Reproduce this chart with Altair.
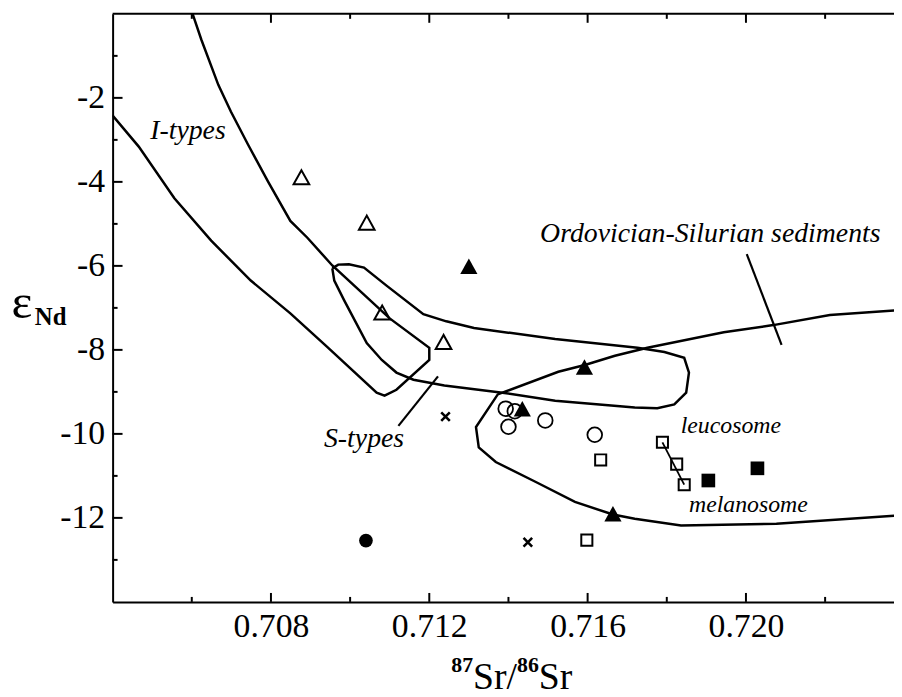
import altair as alt
import pandas as pd

FONT = "'Liberation Serif', 'Times New Roman', Times, serif"

# ---------------- data (87Sr/86Sr, eNd) ----------------
open_tri_x = [0.70877, 0.71042, 0.71081, 0.71236]
open_tri_y = [-3.91, -4.99, -7.13, -7.83]
fill_tri_x = [0.71300, 0.71592, 0.71435, 0.71664]
fill_tri_y = [-6.03, -8.43, -9.42, -11.92]
fill_circ_x = [0.71040]
fill_circ_y = [-12.54]
cross_x = [0.71241, 0.71449]
cross_y = [-9.59, -12.58]
open_circ_x = [0.71393, 0.71416, 0.71400, 0.71493, 0.71618]
open_circ_y = [-9.40, -9.46, -9.83, -9.68, -10.02]
open_sq_x = [0.71633, 0.71789, 0.71825, 0.71844, 0.71598]
open_sq_y = [-10.62, -10.20, -10.72, -11.21, -12.53]
fill_sq_x = [0.71905, 0.72029]
fill_sq_y = [-11.11, -10.82]
tie_x = [0.71789, 0.71844]
tie_y = [-10.20, -11.21]

# field outlines
itype_x = [0.70399, 0.70466, 0.70556, 0.70649, 0.70749, 0.70849, 0.70942, 0.71067,
           0.71087, 0.71117, 0.71200, 0.71200, 0.71100, 0.70955, 0.70892, 0.70849,
           0.70792, 0.70742, 0.70699, 0.70667, 0.70624, 0.70601]
itype_y = [-2.41, -3.16, -4.39, -5.40, -6.35, -7.13, -7.93, -9.02,
           -9.09, -8.95, -8.24, -7.95, -7.25, -5.99, -5.33, -4.93,
           -3.98, -3.11, -2.33, -1.69, -0.61, 0.03]
stype_x = [0.70955, 0.70970, 0.70997, 0.71035, 0.71092, 0.71185, 0.71243, 0.71313,
           0.71518, 0.71726, 0.71794, 0.71844, 0.71856, 0.71849, 0.71819, 0.71776,
           0.71719, 0.71518, 0.71385, 0.71238, 0.71160, 0.71117, 0.71080, 0.71042,
           0.70985, 0.70960, 0.70955]
stype_y = [-6.06, -5.97, -5.96, -6.04, -6.47, -7.15, -7.32, -7.48,
           -7.74, -7.95, -8.05, -8.19, -8.54, -9.02, -9.30, -9.39,
           -9.37, -9.21, -9.02, -8.85, -8.71, -8.54, -8.24, -7.84,
           -6.82, -6.35, -6.06]
sed_x = [0.72375, 0.72212, 0.72069, 0.71944, 0.71751, 0.71669, 0.71593, 0.71526,
         0.71393, 0.71373, 0.71318, 0.71325, 0.71368, 0.71468, 0.71568, 0.71664,
         0.71719, 0.71836, 0.72077, 0.72375]
sed_y = [-7.06, -7.17, -7.41, -7.58, -7.95, -8.14, -8.36, -8.52,
         -8.99, -9.06, -9.84, -10.32, -10.67, -11.14, -11.62, -11.92,
         -12.02, -12.18, -12.14, -11.95]
s_ptr_x = [0.71122, 0.71222]
s_ptr_y = [-9.81, -8.63]
os_ptr_x = [0.72002, 0.72090]
os_ptr_y = [-5.72, -7.88]

big_labels = ["I-types", "S-types", "Ordovician-Silurian sediments"]
big_labels_x = [0.70495, 0.70934, 0.71480]
big_labels_y = [-2.98, -10.32, -5.44]
small_labels = ["leucosome", "melanosome"]
small_labels_x = [0.71835, 0.71856]
small_labels_y = [-9.97, -11.86]

x_major = [0.708, 0.712, 0.716, 0.720]
x_minor = [0.706, 0.710, 0.714, 0.718, 0.722]
y_major = [-2, -4, -6, -8, -10, -12]
y_minor = [-1, -3, -5, -7, -9, -11, -13]

# ---------------- chart ----------------
W, H = 788, 593
XDOM = [0.704, 0.72374]
YDOM = [-14, 0]

xaxis = alt.Axis(values=x_major, format=".3f", ticks=False, tickSize=0, grid=False,
                 domainColor="black", domainWidth=2, labelFont=FONT, labelFontSize=34,
                 labelColor="black", labelPadding=8, labelFlush=False, title=None)
yaxis = alt.Axis(values=y_major, labelExpr="toString(datum.value)", ticks=False, tickSize=0,
                 grid=False, domainColor="black", domainWidth=2, labelFont=FONT,
                 labelFontSize=34, labelColor="black", labelPadding=8, title=None)


def X(f="x"):
    return alt.X(f + ":Q", scale=alt.Scale(domain=XDOM, nice=False, zero=False), axis=xaxis)


def Y(f="y"):
    return alt.Y(f + ":Q", scale=alt.Scale(domain=YDOM, nice=False, zero=False), axis=yaxis)


def pts(xs, ys):
    return pd.DataFrame({"x": xs, "y": ys})


def curves(named):
    rows = []
    for name, (xs, ys) in named.items():
        for i, (a, b) in enumerate(zip(xs, ys)):
            rows.append({"curve": name, "i": i, "x": a, "y": b})
    return pd.DataFrame(rows)


outline_df = curves({"itype": (itype_x, itype_y), "stype": (stype_x, stype_y),
                     "sed": (sed_x, sed_y)})
thin_df = curves({"sptr": (s_ptr_x, s_ptr_y), "optr": (os_ptr_x, os_ptr_y)})
tie_df = curves({"tie": (tie_x, tie_y)})

outlines = alt.Chart(outline_df).mark_line(color="black", strokeWidth=2.5, clip=True).encode(
    x=X(), y=Y(), detail="curve:N", order="i:Q")
pointers = alt.Chart(thin_df).mark_line(color="black", strokeWidth=2.2, clip=True).encode(
    x=X(), y=Y(), detail="curve:N", order="i:Q")
tie = alt.Chart(tie_df).mark_line(color="black", strokeWidth=1.8).encode(
    x=X(), y=Y(), order="i:Q")

TRI = "M0,-1L-1,0.8L1,0.8Z"
XSHAPE = "M-1,-1L1,1M-1,1L1,-1"

open_tri = alt.Chart(pts(open_tri_x, open_tri_y)).mark_point(
    shape=TRI, filled=False, stroke="black", strokeWidth=2, size=250, opacity=1).encode(x=X(), y=Y())
fill_tri = alt.Chart(pts(fill_tri_x, fill_tri_y)).mark_point(
    shape=TRI, filled=True, fill="black", size=300, opacity=1).encode(x=X(), y=Y())
open_circ = alt.Chart(pts(open_circ_x, open_circ_y)).mark_point(
    shape="circle", filled=False, stroke="black", strokeWidth=1.8, size=220, opacity=1).encode(x=X(), y=Y())
fill_circ = alt.Chart(pts(fill_circ_x, fill_circ_y)).mark_point(
    shape="circle", filled=True, fill="black", size=190, opacity=1).encode(x=X(), y=Y())
open_sq = alt.Chart(pts(open_sq_x, open_sq_y)).mark_point(
    shape="square", filled=False, stroke="black", strokeWidth=2, size=125, opacity=1).encode(x=X(), y=Y())
fill_sq = alt.Chart(pts(fill_sq_x, fill_sq_y)).mark_point(
    shape="square", filled=True, fill="black", size=190, opacity=1).encode(x=X(), y=Y())
crosses = alt.Chart(pts(cross_x, cross_y)).mark_point(
    shape=XSHAPE, filled=False, stroke="black", strokeWidth=2.6, size=75, opacity=1).encode(x=X(), y=Y())

big_txt = alt.Chart(pd.DataFrame({"x": big_labels_x, "y": big_labels_y, "t": big_labels})).mark_text(
    align="left", baseline="alphabetic", font=FONT, fontStyle="italic", fontSize=28, color="black"
).encode(x=X(), y=Y(), text="t:N")
small_txt = alt.Chart(pd.DataFrame({"x": small_labels_x, "y": small_labels_y, "t": small_labels})).mark_text(
    align="left", baseline="alphabetic", font=FONT, fontStyle="italic", fontSize=24, color="black"
).encode(x=X(), y=Y(), text="t:N")

# inward ticks
xmaj = pd.DataFrame({"v": x_major})
xmin = pd.DataFrame({"v": x_minor})
ymaj = pd.DataFrame({"v": y_major})
ymin = pd.DataFrame({"v": y_minor})
tk = dict(color="black", strokeWidth=2)
ticks = [
    alt.Chart(xmaj).mark_rule(**tk).encode(x=X("v"), y=alt.value(H), y2=alt.value(H - 9)),
    alt.Chart(xmin).mark_rule(**tk).encode(x=X("v"), y=alt.value(H), y2=alt.value(H - 5)),
    alt.Chart(xmaj).mark_rule(**tk).encode(x=X("v"), y=alt.value(0), y2=alt.value(9)),
    alt.Chart(xmin).mark_rule(**tk).encode(x=X("v"), y=alt.value(0), y2=alt.value(5)),
    alt.Chart(ymaj).mark_rule(**tk).encode(y=Y("v"), x=alt.value(0), x2=alt.value(10)),
    alt.Chart(ymin).mark_rule(**tk).encode(y=Y("v"), x=alt.value(0), x2=alt.value(5)),
]
one = pd.DataFrame({"a": [0]})
top_line = alt.Chart(one).mark_rule(color="black", strokeWidth=2).encode(
    x=alt.value(0), x2=alt.value(W), y=alt.value(0))


def txt(s, x, y, size, weight="normal"):
    return alt.Chart(one).mark_text(text=s, align="left", baseline="alphabetic", font=FONT,
                                    fontSize=size, fontWeight=weight, color="black").encode(
        x=alt.value(x), y=alt.value(y))


titles = [
    txt("ε", -102, 307, 50),
    txt("Nd", -78.5, 314, 25, "bold"),
    txt("87", 341.5, 664, 22, "bold"),
    txt("Sr/", 363.5, 681, 38),
    txt("86", 407.8, 664, 22, "bold"),
    txt("Sr", 429.8, 681, 38),
]

chart = alt.layer(
    outlines, pointers, tie, *ticks, top_line,
    open_tri, fill_tri, open_circ, fill_circ, open_sq, fill_sq, crosses,
    big_txt, small_txt, *titles
).properties(
    width=W, height=H,
    padding={"left": 105.5, "top": 3, "right": 0, "bottom": 93},
    autosize=alt.AutoSizeParams(type="none"),
).configure_view(stroke=None)

chart.save("out.html", embed_options={"renderer": "svg", "actions": False})
